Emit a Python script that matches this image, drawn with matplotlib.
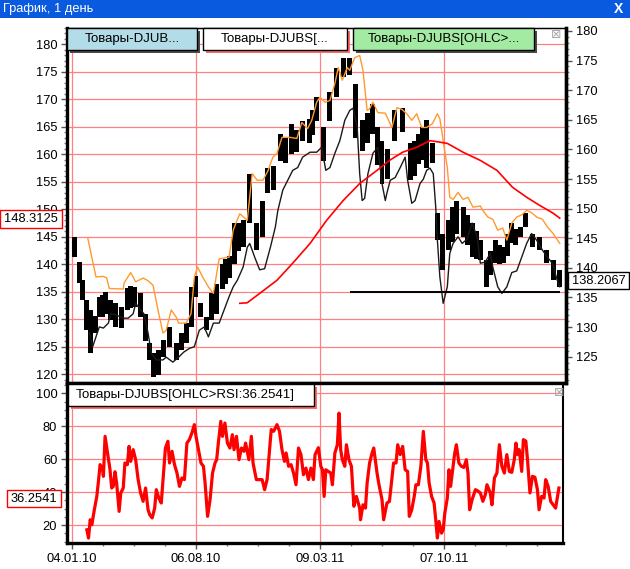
import numpy as np
import matplotlib.pyplot as plt
from matplotlib.patches import Rectangle
from matplotlib.ticker import MultipleLocator

plt.rcParams['font.family'] = ['Liberation Sans', 'DejaVu Sans']

# x axis is the bar number, 0 = 04.01.10
tick_bars = [0, 150, 300, 450]
tick_labels = ['04.01.10', '06.08.10', '09.03.11', '07.10.11']

# candles (grouped), high / low
c_bar = [3, 9, 13, 17, 22, 28, 33, 37, 41, 47, 53, 60, 67, 71, 76, 83, 89, 94, 99, 105,
         111, 118, 126, 132, 139, 145, 150, 156, 163, 169, 175, 182, 186, 191, 197, 201, 208, 215, 223, 230,
         237, 244, 252, 258, 265, 272, 279, 287, 291, 296, 304, 312, 320, 328, 336, 343, 351, 357, 363, 369,
         375, 382, 390, 400, 409, 414, 419, 424, 429, 436, 442, 448, 455, 460, 465, 474, 479, 484, 489, 494,
         501, 506, 512, 517, 522, 527, 532, 537, 542, 549, 557, 566, 574, 582, 590]
c_hi = [145.0, 140.5, 137.1, 133.5, 131.7, 130.6, 134.1, 134.5, 135.0, 133.5, 132.9, 132.2, 135.7, 136.0, 135.9, 134.7, 131.0, 125.6, 123.8, 124.4,
        126.2, 128.6, 125.6, 127.5, 129.3, 135.9, 137.8, 132.9, 130.4, 134.7, 136.5, 140.0, 141.0, 141.5, 147.5, 147.6, 148.0, 156.5, 147.5, 151.5,
        157.6, 157.8, 163.7, 163.0, 165.5, 164.5, 166.0, 166.5, 168.0, 170.4, 165.0, 171.3, 175.8, 177.6, 177.6, 172.9, 166.2, 167.5, 169.2, 165.0,
        162.4, 161.0, 168.0, 168.5, 162.0, 162.5, 163.7, 165.0, 166.2, 162.0, 149.3, 145.6, 148.0, 150.5, 151.6, 150.4, 149.0, 147.5, 146.0, 144.4,
        140.8, 142.5, 144.4, 143.5, 143.1, 145.5, 147.5, 146.5, 146.8, 149.3, 145.6, 145.0, 142.6, 140.8, 139.0]
c_lo = [141.4, 136.6, 133.5, 128.0, 123.9, 127.5, 130.5, 130.5, 131.0, 129.8, 128.5, 128.4, 131.7, 132.0, 132.2, 130.4, 126.0, 122.6, 119.5, 119.8,
        123.1, 124.9, 122.6, 124.4, 125.6, 128.6, 134.1, 130.4, 128.0, 129.8, 131.0, 135.5, 136.5, 137.5, 140.0, 142.5, 143.1, 147.5, 142.6, 145.0,
        152.9, 153.5, 158.8, 158.5, 160.1, 160.5, 162.4, 162.0, 163.5, 166.0, 158.8, 166.0, 170.4, 174.0, 174.5, 163.0, 160.7, 162.0, 163.7, 158.0,
        154.6, 155.5, 162.5, 164.0, 155.3, 156.0, 158.3, 159.0, 157.6, 158.4, 144.4, 139.0, 142.6, 144.0, 145.6, 145.0, 143.5, 141.4, 141.0, 140.8,
        135.9, 138.0, 140.2, 140.0, 140.2, 141.5, 143.8, 143.5, 145.0, 146.8, 143.1, 142.6, 140.2, 137.1, 135.9]

# upper channel (orange)
up_bar = [19, 29, 38, 42, 45, 62, 63, 71, 77, 86, 92, 98, 104, 110, 114, 120, 126, 129, 138, 144,
          148, 152, 158, 165, 171, 178, 190, 195, 198, 203, 212, 218, 224, 231, 237, 243, 248, 254, 264, 272,
          278, 285, 290, 296, 300, 306, 312, 318, 322, 327, 333, 336, 342, 348, 352, 357, 360, 364, 370, 379,
          387, 393, 399, 405, 411, 417, 423, 429, 436, 442, 445, 449, 454, 457, 461, 467, 473, 479, 485, 494,
          497, 503, 509, 515, 521, 526, 532, 538, 544, 550, 556, 562, 569, 575, 582, 590]
up_val = [144.8, 137.7, 137.8, 137.5, 135.6, 135.5, 136.6, 138.5, 136.8, 137.5, 137.0, 136.2, 131.7, 127.5, 128.0, 131.7, 130.4, 129.3, 129.3, 131.0,
          137.7, 139.5, 137.7, 135.9, 134.7, 141.0, 141.3, 146.2, 147.4, 149.2, 148.0, 156.5, 155.3, 155.3, 157.0, 159.5, 160.2, 163.1, 163.1, 162.9,
          165.8, 164.7, 166.2, 169.5, 170.4, 169.5, 169.8, 172.9, 175.8, 173.5, 175.8, 175.3, 177.6, 178.0, 175.3, 168.0, 168.3, 169.5, 167.6, 167.5,
          164.9, 168.5, 168.2, 167.4, 166.2, 167.4, 164.9, 164.9, 165.6, 167.4, 166.5, 162.5, 157.6, 152.2, 151.8, 153.1, 151.8, 152.2, 150.4, 150.6,
          149.8, 148.6, 148.2, 146.2, 146.6, 144.4, 147.5, 148.6, 149.0, 149.8, 149.4, 148.6, 148.2, 146.8, 145.6, 143.8]

# lower channel (black)
dn_bar = [21, 25, 29, 33, 38, 44, 47, 53, 62, 68, 74, 77, 83, 87, 92, 96, 102, 110, 114, 122,
          129, 135, 142, 148, 154, 160, 165, 171, 178, 184, 190, 195, 200, 207, 212, 215, 221, 227, 233, 240,
          246, 249, 255, 261, 267, 273, 279, 288, 296, 302, 307, 312, 318, 324, 330, 336, 340, 345, 348, 351,
          354, 358, 364, 370, 375, 379, 381, 385, 391, 397, 403, 406, 411, 415, 421, 425, 429, 433, 437, 440,
          442, 445, 449, 454, 457, 461, 467, 472, 478, 484, 490, 494, 500, 506, 509, 515, 520, 526, 532, 538,
          544, 550, 556, 562, 569, 575, 581, 587, 590]
dn_val = [127.5, 125.0, 126.8, 128.6, 128.4, 129.3, 131.0, 130.8, 130.2, 130.2, 131.0, 132.9, 131.7, 131.0, 127.5, 123.8, 122.6, 122.6, 123.1, 122.2,
          123.1, 124.0, 124.7, 125.0, 128.0, 128.6, 126.8, 129.3, 129.3, 131.7, 134.1, 135.9, 137.1, 139.5, 143.1, 143.8, 141.3, 139.0, 139.2, 143.1,
          146.8, 149.8, 153.5, 155.3, 157.1, 157.6, 159.5, 160.4, 160.4, 161.3, 157.1, 157.6, 160.2, 162.5, 166.2, 168.0, 168.4, 164.9, 156.5, 151.6,
          152.0, 156.5, 160.2, 161.3, 154.7, 151.6, 153.0, 155.3, 155.8, 157.6, 159.5, 155.3, 151.1, 151.6, 154.7, 155.5, 157.1, 157.5, 156.5, 150.4,
          144.4, 137.7, 132.9, 135.9, 142.0, 143.8, 145.0, 143.8, 144.6, 147.5, 145.0, 140.2, 140.4, 142.0, 139.5, 135.9, 134.7, 135.9, 138.5, 138.8,
          141.3, 143.8, 145.6, 144.4, 142.6, 141.3, 140.2, 137.1, 135.9]

# long moving average (red)
ma_bar = [203, 212, 227, 248, 267, 288, 308, 328, 348, 369, 385, 400, 417, 433, 442, 454, 473, 494, 514, 533, 550, 566, 582, 590]
ma_val = [132.9, 133.0, 134.7, 137.1, 140.2, 143.8, 148.0, 151.6, 154.7, 157.1, 159.0, 160.4, 161.3, 162.5, 162.3, 162.0, 160.4, 158.9, 157.1, 154.0,
          152.2, 150.7, 149.3, 148.4]

level_val = 135.05
level_from = 336

rsi_bar = [18, 20, 22, 24, 27, 30, 32, 34, 37, 38, 40, 43, 46, 48, 50, 52, 54, 57, 59, 62,
           64, 67, 69, 71, 74, 77, 80, 83, 86, 89, 92, 94, 97, 100, 102, 105, 108, 110, 113, 116,
           118, 121, 124, 127, 130, 133, 136, 139, 142, 145, 148, 150, 153, 156, 159, 161, 164, 167, 170, 173,
           175, 177, 180, 182, 185, 188, 191, 194, 196, 199, 202, 205, 208, 210, 214, 217, 219, 223, 227, 230,
           233, 236, 239, 241, 244, 248, 251, 254, 257, 259, 262, 265, 268, 271, 274, 277, 280, 283, 286, 289,
           292, 294, 298, 301, 303, 305, 307, 310, 313, 315, 318, 321, 323, 325, 327, 330, 332, 335, 338, 341,
           344, 348, 349, 352, 355, 357, 360, 363, 365, 369, 371, 375, 377, 381, 384, 386, 389, 392, 394, 397,
           400, 403, 406, 408, 411, 414, 416, 419, 422, 425, 428, 430, 432, 435, 438, 440, 442, 444, 447, 449,
           451, 454, 456, 458, 460, 463, 465, 468, 471, 474, 477, 479, 481, 484, 488, 490, 494, 497, 500, 502,
           506, 508, 511, 514, 517, 520, 523, 526, 529, 532, 535, 537, 539, 541, 544, 546, 549, 551, 554, 557,
           560, 563, 565, 568, 571, 573, 576, 579, 582, 585, 587, 589]
rsi_val = [17.1, 12.1, 23.2, 20.2, 29.3, 37.4, 46.6, 56.7, 53.6, 49.6, 73.9, 63.8, 53.6, 42.5, 43.5, 52.4, 45.5, 28.3, 39.5, 42.5,
           57.7, 56.7, 67.8, 58.7, 65.8, 59.7, 47.6, 39.5, 34.4, 42.5, 29.3, 26.3, 24.3, 30.3, 41.5, 36.4, 33.4, 46.6, 66.8, 70.9,
           57.7, 64.8, 56.7, 51.6, 43.5, 48.6, 47.6, 69.8, 71.9, 75.9, 81.0, 73.9, 65.8, 57.7, 55.7, 45.5, 25.3, 35.4, 51.6, 57.7,
           59.7, 69.8, 83.0, 73.9, 82.0, 69.8, 66.8, 74.9, 65.8, 73.9, 59.7, 66.8, 64.8, 69.8, 59.7, 73.9, 57.7, 47.6, 47.6, 47.6,
           41.5, 47.6, 65.8, 78.0, 77.0, 81.0, 77.0, 65.8, 58.7, 63.8, 55.7, 56.7, 51.6, 44.5, 66.8, 62.8, 50.6, 54.6, 47.6, 54.6,
           47.6, 62.8, 67.0, 55.7, 53.6, 37.4, 53.6, 52.6, 51.6, 44.5, 63.8, 68.8, 88.0, 65.8, 59.7, 55.7, 68.8, 59.7, 55.7, 31.4,
           37.4, 30.3, 23.2, 32.3, 30.3, 45.5, 57.7, 63.8, 66.8, 51.6, 45.5, 35.4, 23.2, 33.4, 34.4, 43.5, 57.7, 57.7, 68.8, 62.8,
           67.8, 53.6, 52.6, 25.3, 29.3, 37.4, 44.5, 44.5, 55.7, 76.9, 59.7, 57.7, 45.5, 37.4, 33.4, 23.2, 12.1, 22.2, 15.1, 17.1,
           27.3, 36.4, 53.6, 43.5, 51.6, 63.8, 68.8, 57.7, 55.7, 55.0, 59.7, 51.6, 29.3, 35.4, 41.5, 41.0, 39.5, 34.4, 38.5, 44.5,
           39.5, 32.3, 48.6, 51.6, 68.8, 55.7, 51.6, 62.8, 52.6, 52.0, 59.7, 69.8, 62.8, 65.8, 52.6, 71.9, 71.0, 59.7, 39.5, 49.6,
           49.0, 41.5, 29.3, 37.4, 36.4, 47.6, 43.5, 34.4, 32.3, 30.3, 36.4, 42.5]

W, H = 630, 569
fig = plt.figure(figsize=(W / 100, H / 100), dpi=100)


def fx(px):
    return px / W


def fy(py):
    return 1 - py / H


def px_box(x0, y0, x1, y1, **kw):
    # rectangle given in screen pixels (origin top left)
    fig.add_artist(Rectangle((fx(x0), fy(y1)), (x1 - x0) / W, (y1 - y0) / H,
                             transform=fig.transFigure, **kw))


grid_col = '#FF8080'
px2bar = 150 / 124

# main price panel
ax = fig.add_axes([fx(67), fy(383), 499 / W, 355 / H])
ax.set_xlim((67 - 72) * px2bar, (566 - 72) * px2bar)
ax.set_ylim(118.4, 183.0)
ax.set_axisbelow(True)
ax.bar(c_bar, np.array(c_hi) - np.array(c_lo), bottom=c_lo, width=6, color='black', zorder=3)
ax.plot(up_bar, up_val, color='#FF9A2E', lw=1.0, zorder=4)
ax.plot(dn_bar, dn_val, color='#1A1A1A', lw=1.0, zorder=4)
ax.plot(ma_bar, ma_val, color='#FF0000', lw=1.2, zorder=4)
ax.hlines(level_val, level_from, c_bar[-1], color='black', lw=1.4, zorder=5)

ax.set_xticks(tick_bars)
ax.tick_params(axis='x', bottom=False, labelbottom=False)
ax.yaxis.set_major_locator(MultipleLocator(5))
ax.yaxis.set_minor_locator(MultipleLocator(1))
ax.tick_params(axis='y', which='major', length=4, width=1, labelsize=9.3, pad=3, color='#555555')
ax.tick_params(axis='y', which='minor', length=2, width=1, color='#777777')
ax.grid(True, which='major', color=grid_col, lw=0.9)
for side, lw in [('left', 2.4), ('right', 2.4), ('top', 1.0), ('bottom', 2.4)]:
    ax.spines[side].set_linewidth(lw)

axr = ax.twinx()
axr.set_ylim(120.56, 180.5)
axr.yaxis.set_major_locator(MultipleLocator(5))
axr.yaxis.set_minor_locator(MultipleLocator(1))
axr.tick_params(axis='y', which='major', length=4, width=1, labelsize=9.3, pad=3, color='#555555')
axr.tick_params(axis='y', which='minor', length=2, width=1, color='#777777')
axr.spines['right'].set_linewidth(2.4)
axr.set_yticks([v for v in range(125, 181, 5)])

# RSI panel
rx = fig.add_axes([fx(67), fy(543), 496 / W, 160 / H])
rx.set_xlim((67 - 72) * px2bar, (563 - 72) * px2bar)
rx.set_ylim(9.1, 106.3)
rx.set_axisbelow(True)
rx.plot(rsi_bar, rsi_val, color='#FF0000', lw=2.3, solid_joinstyle='round')
rx.set_yticks([20, 40, 60, 80, 100])
rx.yaxis.set_minor_locator(MultipleLocator(5))
rx.set_xticks(tick_bars)
rx.set_xticklabels(tick_labels)
rx.xaxis.set_minor_locator(MultipleLocator(37.5))
rx.tick_params(which='major', length=4, width=1, labelsize=9.3, pad=3, color='#555555')
rx.tick_params(which='minor', length=2, width=1, color='#777777')
rx.grid(True, which='major', color=grid_col, lw=0.9)
for side, lw in [('left', 2.4), ('right', 1.5), ('top', 2.4), ('bottom', 2.4)]:
    rx.spines[side].set_linewidth(lw)

# window title bar
px_box(0, 0, 630, 18, fc='#0A5ADF', ec='none')
fig.text(fx(3), fy(9), 'График, 1 день', color='white', fontsize=9.3, va='center')
fig.text(fx(618), fy(9), 'X', color='white', fontsize=10, weight='bold', ha='center', va='center')

# series captions
legend = [
    (67, 197, '#B2DCE8', '#4A4A4A', 'Товары-DJUB...'),
    (203, 347, 'white', '#FF6A6A', 'Товары-DJUBS[...'),
    (353, 534, '#A3EBA3', '#4A4A4A', 'Товары-DJUBS[OHLC>...'),
]
for x0, x1, fc, sc, txt in legend:
    px_box(x0 + 3, 31, x1 + 3, 53, fc=sc, ec='none')
    px_box(x0, 28, x1, 50, fc=fc, ec='black', lw=1)
    fig.text(fx((x0 + x1) / 2), fy(39), txt, fontsize=9.5, ha='center', va='center')

px_box(71, 387, 317, 409, fc='#FF6A6A', ec='none')
px_box(68, 384, 314, 406, fc='white', ec='black', lw=1)
fig.text(fx(76), fy(395), 'Товары-DJUBS[OHLC>RSI:36.2541]', fontsize=9.5, va='center')

# close icons
fig.text(fx(556), fy(35), '⊠', family='DejaVu Sans', color='#A8A8A8', fontsize=9, ha='center', va='center')
fig.text(fx(559), fy(392), '⊠', family='DejaVu Sans', color='#A8A8A8', fontsize=9, ha='center', va='center')

# current value labels
px_box(0, 210, 62, 228, fc='white', ec='red', lw=1)
fig.text(fx(31), fy(219), '148.3125', fontsize=9.3, ha='center', va='center')
px_box(568, 272, 629, 289, fc='white', ec='black', lw=1)
fig.text(fx(598.5), fy(280.5), '138.2067', fontsize=9.3, ha='center', va='center')
px_box(7, 490, 61, 507, fc='white', ec='red', lw=1)
fig.text(fx(34), fy(498.5), '36.2541', fontsize=9.3, ha='center', va='center')

fig.savefig('out.png', dpi=100)
